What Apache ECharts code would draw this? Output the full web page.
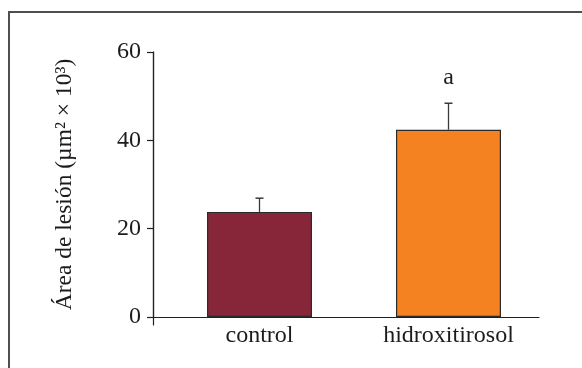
<!DOCTYPE html>
<html>
<head>
<meta charset="utf-8">
<script src="https://cdn.jsdelivr.net/npm/echarts@6/dist/echarts.min.js"></script>
<style>
  html, body { margin: 0; padding: 0; background: #fff; }
  #chart { width: 582px; height: 368px; }
</style>
</head>
<body>
<div id="chart"></div>
<script>
// Lesion area by treatment group (mean, upper error in µm² × 10³)
const categories = ['control', 'hidroxitirosol'];
const meanValues = [23.8, 42.4];
const errorValues = [3.1, 6.0];
const significance = ['', 'a'];
const yTicks = [0, 20, 40, 60];

const barColors = ['#862638', '#F58220'];
const FONT = '"Liberation Serif", "DejaVu Serif", serif';
const TEXT_COLOR = '#1f1b1c';

const chart = echarts.init(document.getElementById('chart'), null, { renderer: 'canvas' });

const option = {
  backgroundColor: '#ffffff',
  animation: false,
  graphic: [{
    type: 'rect',
    shape: { x: 9, y: 12, width: 700, height: 500 },
    style: { fill: 'none', stroke: '#4f4f4f', lineWidth: 2 },
    silent: true
  }],
  grid: [
    // axis frame: y axis with ticks and the baseline
    { left: 153, right: 43, top: 52, bottom: 51 },
    // bars and category labels
    { left: 165, width: 378, top: 52, bottom: 51 },
    // short extension of the y axis line below zero
    { left: 153, width: 10, top: 52, bottom: 43 }
  ],
  xAxis: [
    {
      gridIndex: 0, type: 'value', min: 0, max: 1,
      axisLine: { show: true, lineStyle: { color: '#231f20', width: 1.2 } },
      axisTick: { show: false }, axisLabel: { show: false }, splitLine: { show: false }
    },
    {
      gridIndex: 1, type: 'category', data: categories,
      axisLine: { show: false }, axisTick: { show: false }, splitLine: { show: false },
      axisLabel: { color: TEXT_COLOR, fontFamily: FONT, fontSize: 24, margin: 7 }
    },
    {
      gridIndex: 2, type: 'value', show: false
    }
  ],
  yAxis: [
    {
      gridIndex: 0, type: 'value', min: yTicks[0], max: yTicks[yTicks.length - 1], interval: 20,
      name: 'Área de lesión (µm² × 10³)',
      nameLocation: 'middle', nameGap: 76, nameRotate: 90,
      nameTextStyle: { color: TEXT_COLOR, fontFamily: FONT, fontSize: 23.5 },
      axisLine: { show: true, lineStyle: { color: '#231f20', width: 1.2 } },
      axisTick: { show: true, inside: false, length: 6, lineStyle: { color: '#231f20', width: 1.2 } },
      axisLabel: { color: TEXT_COLOR, fontFamily: FONT, fontSize: 24, margin: 12 },
      splitLine: { show: false }
    },
    {
      gridIndex: 1, type: 'value', min: yTicks[0], max: yTicks[yTicks.length - 1], show: false
    },
    {
      gridIndex: 2, type: 'value', show: true,
      axisLine: { show: true, lineStyle: { color: '#231f20', width: 1.2 } },
      axisTick: { show: false }, axisLabel: { show: false }, splitLine: { show: false }
    }
  ],
  series: [
    {
      type: 'bar',
      xAxisIndex: 1, yAxisIndex: 1,
      barWidth: 105,
      data: meanValues.map((v, i) => ({
        value: v,
        itemStyle: { color: barColors[i], borderColor: '#2b2b2b', borderWidth: 1.2 }
      })),
      z: 2
    },
    {
      type: 'custom',
      xAxisIndex: 1, yAxisIndex: 1,
      data: meanValues.map((v, i) => [i, v, errorValues[i]]),
      z: 3,
      renderItem: function (params, api) {
        const idx = api.value(0);
        const mean = api.value(1);
        const err = api.value(2);
        const base = api.coord([idx, mean]);
        const top = api.coord([idx, mean + err]);
        const children = [
          { type: 'line', shape: { x1: base[0], y1: base[1], x2: top[0], y2: top[1] },
            style: { stroke: '#3a3a3a', lineWidth: 1.3 } },
          { type: 'line', shape: { x1: top[0] - 4, y1: top[1], x2: top[0] + 4, y2: top[1] },
            style: { stroke: '#3a3a3a', lineWidth: 1.5 } }
        ];
        const mark = significance[params.dataIndex];
        if (mark) {
          children.push({
            type: 'text',
            style: {
              text: mark, x: top[0], y: top[1] - 26,
              align: 'center', verticalAlign: 'middle',
              fill: TEXT_COLOR, font: '24px ' + FONT
            }
          });
        }
        return { type: 'group', children: children };
      }
    }
  ]
};

chart.setOption(option);
</script>
</body>
</html>
